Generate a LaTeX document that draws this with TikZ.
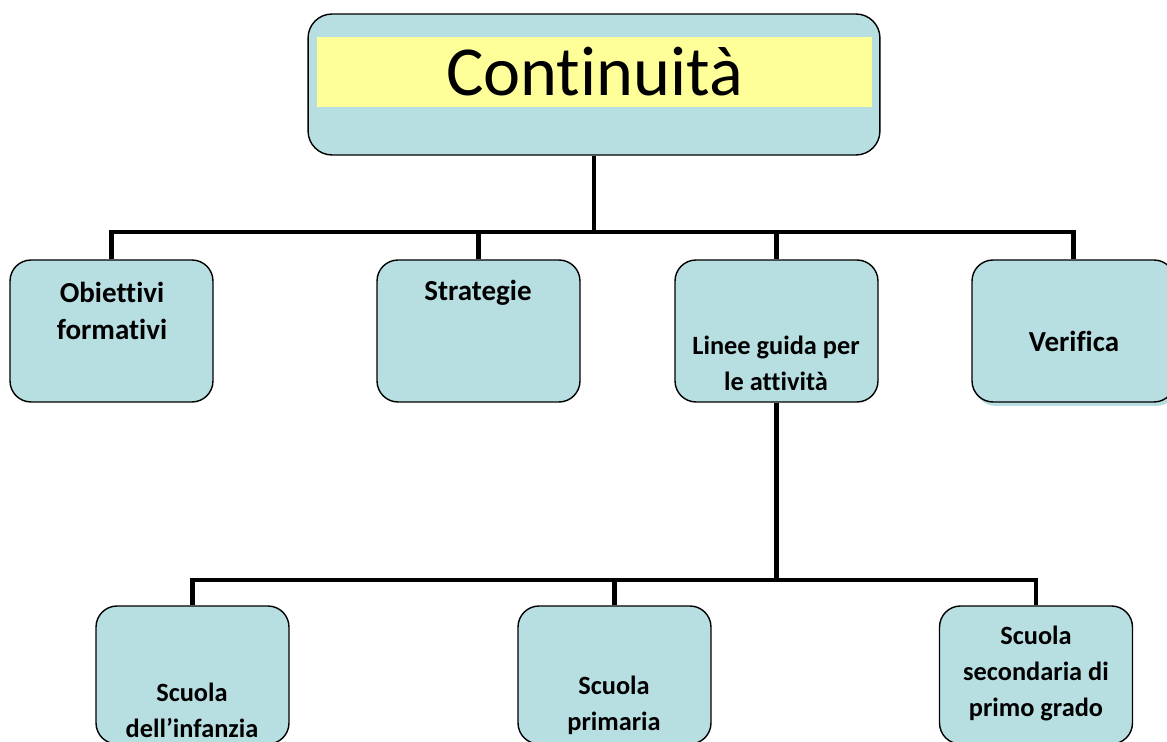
\documentclass[tikz,border=0pt]{standalone}
\usepackage{fontspec}
\setmainfont{Carlito}[Ligatures={NoCommon}]
\definecolor{boxblue}{HTML}{B7DEE1}
\definecolor{titleyellow}{HTML}{FFFF99}

\begin{document}
\begin{tikzpicture}[x=0.02cm,y=-0.02cm,
  box/.style={draw,line width=0.8pt,fill=boxblue,rounded corners=0.42cm,minimum width=4.06cm,minimum height=2.84cm},
  lowbox/.style={box,minimum width=3.86cm,minimum height=2.76cm},
  lbl/.style={align=center,inner sep=0pt,font=\bfseries\fontsize{16.5}{21.5}\selectfont},
  smalllbl/.style={lbl,font=\bfseries\fontsize{15}{20.5}\selectfont},
  link/.style={line width=2.8pt}]
\useasboundingbox (0,0) rectangle (1167,742);
\clip (0,0) rectangle (1167,742);
% title
\node[box,minimum width=11.44cm,minimum height=2.82cm,rounded corners=0.48cm] (cont) at (594,84.5) {};
\node[fill=titleyellow,minimum width=11.1cm,minimum height=1.4cm,inner sep=0pt] (title) at (594.5,72) {\fontsize{40}{41}\selectfont Continuità};
% first row
\node[box] (obi) at (111.5,331) {};
\node[box] (str) at (478.5,331) {};
\node[box] (lin) at (776.5,331) {};
\node[box,draw=none] (vershadow) at (1076,335) {};
\node[box] (ver) at (1073.5,331) {};
\node[lbl] (obi-t) at (112,311) {Obiettivi\\formativi};
\node[lbl] (str-t) at (478,293) {Strategie};
\node[smalllbl] (lin-t) at (776,363.5) {Linee guida per\\le attività};
\node[lbl] (ver-t) at (1074,341) {Verifica};
% second row
\node[lowbox] (inf) at (192.5,675) {};
\node[lowbox] (pri) at (614.5,675) {};
\node[lowbox] (sec) at (1036,675) {};
\node[smalllbl] (inf-t) at (192,710) {Scuola\\dell’infanzia};
\node[smalllbl] (pri-t) at (614,705.5) {Scuola\\primaria};
\node[smalllbl] (sec-t) at (1036,673.5) {Scuola\\secondaria di\\primo grado};
% connectors
\coordinate (topbar) at (594,232);
\coordinate (lowbar) at (lin.south |- 0,580);
\draw[link] (cont.south) -- (topbar);
\draw[link] (obi.north) |- (topbar) -| (ver.north);
\draw[link] (str.north) -- (str.north |- topbar);
\draw[link] (lin.north) -- (lin.north |- topbar);
\draw[link] (lin.south) -- (lowbar);
\draw[link] (inf.north) |- (lowbar) -| (sec.north);
\draw[link] (pri.north) -- (pri.north |- lowbar);
\end{tikzpicture}
\end{document}
